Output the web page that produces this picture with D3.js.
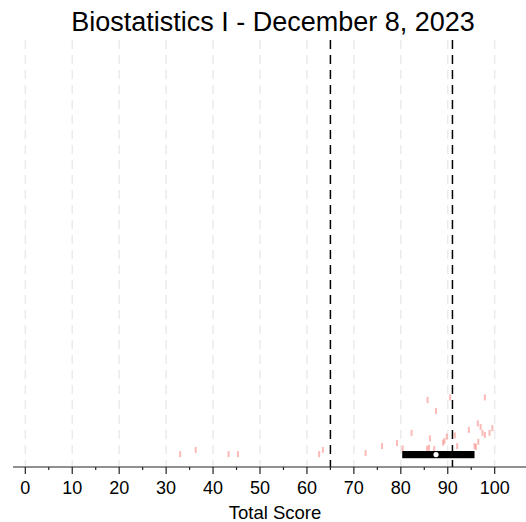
<!DOCTYPE html>
<html><head><meta charset="utf-8">
<script src="https://cdn.jsdelivr.net/npm/d3@7"></script>
<style>html,body{margin:0;padding:0;background:#fff;}svg{display:block;}</style>
</head><body>
<script>
// Data
const scores = [33.0,36.3,43.3,45.3,62.6,63.4,72.5,76.0,79.2,80.4,82.3,85.7,85.6,86.0,86.2,87.1,87.5,89.0,89.3,89.8,90.5,91.5,92.0,94.5,95.7,96.0,96.4,96.5,97.0,97.4,97.9,97.9,98.9,99.5];
const jitter = [0.030,0.040,0.030,0.030,0.030,0.040,0.033,0.049,0.056,0.043,0.080,0.157,0.043,0.045,0.067,0.042,0.131,0.057,0.061,0.071,0.163,0.074,0.049,0.087,0.049,0.047,0.102,0.059,0.094,0.080,0.163,0.075,0.080,0.091];
const boxStats = {q1: 80.3, median: 87.5, q3: 95.7};
const boxLevel = [0.029];
const refLines = [65, 91];
const majorTicks = [0,10,20,30,40,50,60,70,80,90,100];
const minorTicks = [5,15,25,35,45,55,65,75,85,95];
const title = "Biostatistics I - December 8, 2023";
const xLabel = "Total Score";

const W = 526, H = 522;
const svg = d3.select("body").append("svg").attr("width", W).attr("height", H);
const font = "Liberation Sans, Arial, Helvetica, sans-serif";

const x = d3.scaleLinear().domain([0, 100]).range([25.3, 494.7]);
const y = d3.scaleLinear().domain([0, 1]).range([467, 40]);

// gridlines
svg.append("g").selectAll("line").data(majorTicks).join("line")
  .attr("x1", d => x(d)).attr("x2", d => x(d))
  .attr("y1", y(1)).attr("y2", y(0))
  .attr("stroke", "#ebebeb").attr("stroke-width", 1.5)
  .attr("stroke-dasharray", "9,6");

// reference lines
svg.append("g").selectAll("line").data(refLines).join("line")
  .attr("x1", d => x(d)).attr("x2", d => x(d))
  .attr("y1", y(1)).attr("y2", y(0))
  .attr("stroke", "#000").attr("stroke-width", 1.5)
  .attr("stroke-dasharray", "9,6");

// points
svg.append("g").selectAll("rect").data(scores).join("rect")
  .attr("x", d => x(d) - 1).attr("width", 2)
  .attr("y", (d, i) => y(jitter[i]) - 3).attr("height", 6)
  .attr("fill", "rgba(248,118,109,0.5)");

// box
const by = y(boxLevel[0]);
svg.append("rect")
  .attr("x", x(boxStats.q1)).attr("width", x(boxStats.q3) - x(boxStats.q1))
  .attr("y", by - 3.6).attr("height", 7.2).attr("fill", "#000");
svg.append("circle").attr("cx", x(boxStats.median)).attr("cy", by).attr("r", 2.6).attr("fill", "#fff");

// axis
const axisY = y(0);
svg.append("line").attr("x1", 13).attr("x2", W).attr("y1", axisY).attr("y2", axisY)
  .attr("stroke", "#222").attr("stroke-width", 1.2);
svg.append("g").selectAll("line").data(majorTicks).join("line")
  .attr("x1", d => x(d)).attr("x2", d => x(d)).attr("y1", axisY).attr("y2", axisY + 7)
  .attr("stroke", "#222").attr("stroke-width", 1.2);
svg.append("g").selectAll("line").data(minorTicks).join("line")
  .attr("x1", d => x(d)).attr("x2", d => x(d)).attr("y1", axisY).attr("y2", axisY + 3)
  .attr("stroke", "#222").attr("stroke-width", 1.2);
svg.append("g").selectAll("text").data(majorTicks).join("text")
  .attr("x", d => x(d)).attr("y", 493.5).attr("text-anchor", "middle")
  .attr("font-family", font).attr("font-size", 18).attr("fill", "#000")
  .text(d => d);

svg.append("text").attr("x", 275).attr("y", 518.5).attr("text-anchor", "middle")
  .attr("font-family", font).attr("font-size", 18.5).attr("fill", "#000").text(xLabel);

svg.append("text").attr("x", 273).attr("y", 31).attr("text-anchor", "middle")
  .attr("font-family", font).attr("font-size", 27).attr("fill", "#000").text(title);
</script>
</body></html>
